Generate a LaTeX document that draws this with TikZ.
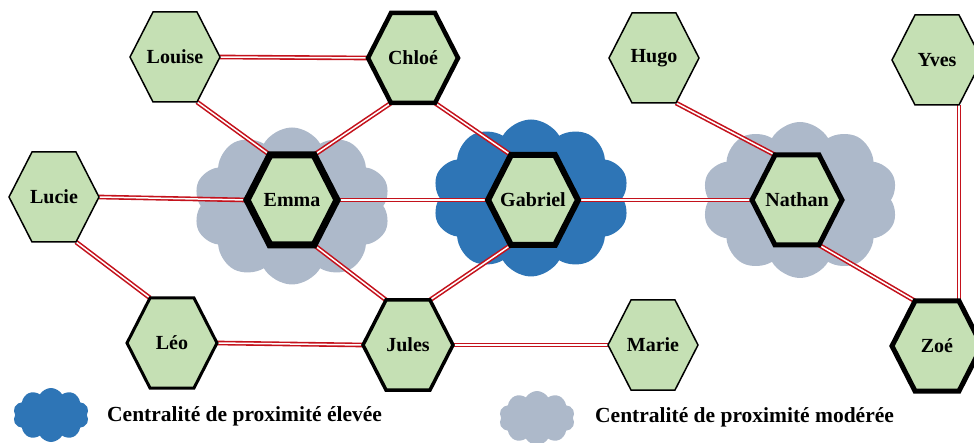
\documentclass[tikz,border=0pt]{standalone}
\usepackage{fontspec}
\setmainfont{Liberation Serif}
\usetikzlibrary{shapes.symbols}
\definecolor{hexfill}{HTML}{C5E0B4}
\definecolor{cloudblue}{HTML}{2E75B6}
\definecolor{cloudgrey}{HTML}{ADB9CA}
\definecolor{linkred}{RGB}{196,18,28}
\tikzset{
  hexlabel/.style={font=\bfseries\fontsize{20}{20}\selectfont, inner sep=0pt},
  hexshape/.style={draw=black, fill=hexfill, line join=miter},
  link/.style={draw=linkred, line width=1.6pt, double=white, double distance=1.5pt},
  bigcloud/.style={cloud, cloud puffs=10, cloud puff arc=120, aspect=1.3, inner sep=0pt, draw=none},
  legtext/.style={font=\bfseries\fontsize{21.5}{21.5}\selectfont, anchor=west, inner sep=0pt}
}
\newcommand\defhex[3]{%
  \coordinate (#1-c)  at (#2,#3);
  \coordinate (#1-l)  at (#2-45,#3);
  \coordinate (#1-r)  at (#2+45,#3);
  \coordinate (#1-nw) at (#2-22,#3-45);
  \coordinate (#1-ne) at (#2+22,#3-45);
  \coordinate (#1-sw) at (#2-22,#3+45);
  \coordinate (#1-se) at (#2+22,#3+45);
}
\newcommand\drawhex[3]{%
  \filldraw[hexshape, line width=#2] (#1-l) -- (#1-nw) -- (#1-ne) -- (#1-r) -- (#1-se) -- (#1-sw) -- cycle;
  \node[hexlabel] (#1) at (#1-c) {#3};
}
\begin{document}
\begin{tikzpicture}[x=1pt,y=-1pt]
\useasboundingbox (0,0) rectangle (974,443);
% clouds
\node[bigcloud, fill=cloudgrey, minimum width=197pt, minimum height=157pt] (cemma) at (292,206) {};
\node[bigcloud, fill=cloudblue, minimum width=197pt, minimum height=157pt] (cgab) at (531,198) {};
\node[bigcloud, fill=cloudgrey, minimum width=196pt, minimum height=156pt] (cnat) at (800,200) {};
\node[bigcloud, fill=cloudblue, minimum width=76pt, minimum height=54pt] (lgblue) at (51,415) {};
\node[bigcloud, fill=cloudgrey, minimum width=76pt, minimum height=54pt] (lggrey) at (537,418) {};
\node[legtext] (lt1) at (107,416) {Centralité de proximité élevée};
\node[legtext] (lt2) at (595,417) {Centralité de proximité modérée};
% node positions
\defhex{louise}{175}{57}
\defhex{chloe}{413}{58}
\defhex{hugo}{654}{58}
\defhex{yves}{937}{60}
\defhex{lucie}{54}{197}
\defhex{emma}{292}{200}
\defhex{gabriel}{533}{200}
\defhex{nathan}{797}{200}
\defhex{leo}{172}{343}
\defhex{jules}{408}{345}
\defhex{marie}{653}{345}
\defhex{zoe}{937}{346}
% links
\draw[link] (louise-r) -- (chloe-l);
\draw[link] (louise-se) -- (emma-nw);
\draw[link] (chloe-sw) -- (emma-ne);
\draw[link] (chloe-se) -- (gabriel-nw);
\draw[link] (lucie-r) -- (emma-l);
\draw[link] (emma-r) -- (gabriel-l);
\draw[link] (gabriel-r) -- (nathan-l);
\draw[link] (hugo-se) -- (nathan-nw);
\draw[link] (yves-se) -- (zoe-ne);
\draw[link] (nathan-se) -- (zoe-nw);
\draw[link] (lucie-se) -- (leo-nw);
\draw[link] (emma-se) -- (jules-nw);
\draw[link] (gabriel-sw) -- (jules-ne);
\draw[link] (leo-r) -- (jules-l);
\draw[link] (jules-r) -- (marie-l);
% hexagons
\drawhex{louise}{1.5pt}{Louise}
\drawhex{chloe}{4.5pt}{Chloé}
\drawhex{hugo}{1.5pt}{Hugo}
\drawhex{yves}{1.5pt}{Yves}
\drawhex{lucie}{1.5pt}{Lucie}
\drawhex{emma}{7pt}{Emma}
\drawhex{gabriel}{6pt}{Gabriel}
\drawhex{nathan}{5pt}{Nathan}
\drawhex{leo}{3pt}{Léo}
\drawhex{jules}{3.5pt}{Jules}
\drawhex{marie}{1.5pt}{Marie}
\drawhex{zoe}{5pt}{Zoé}
\end{tikzpicture}
\end{document}
